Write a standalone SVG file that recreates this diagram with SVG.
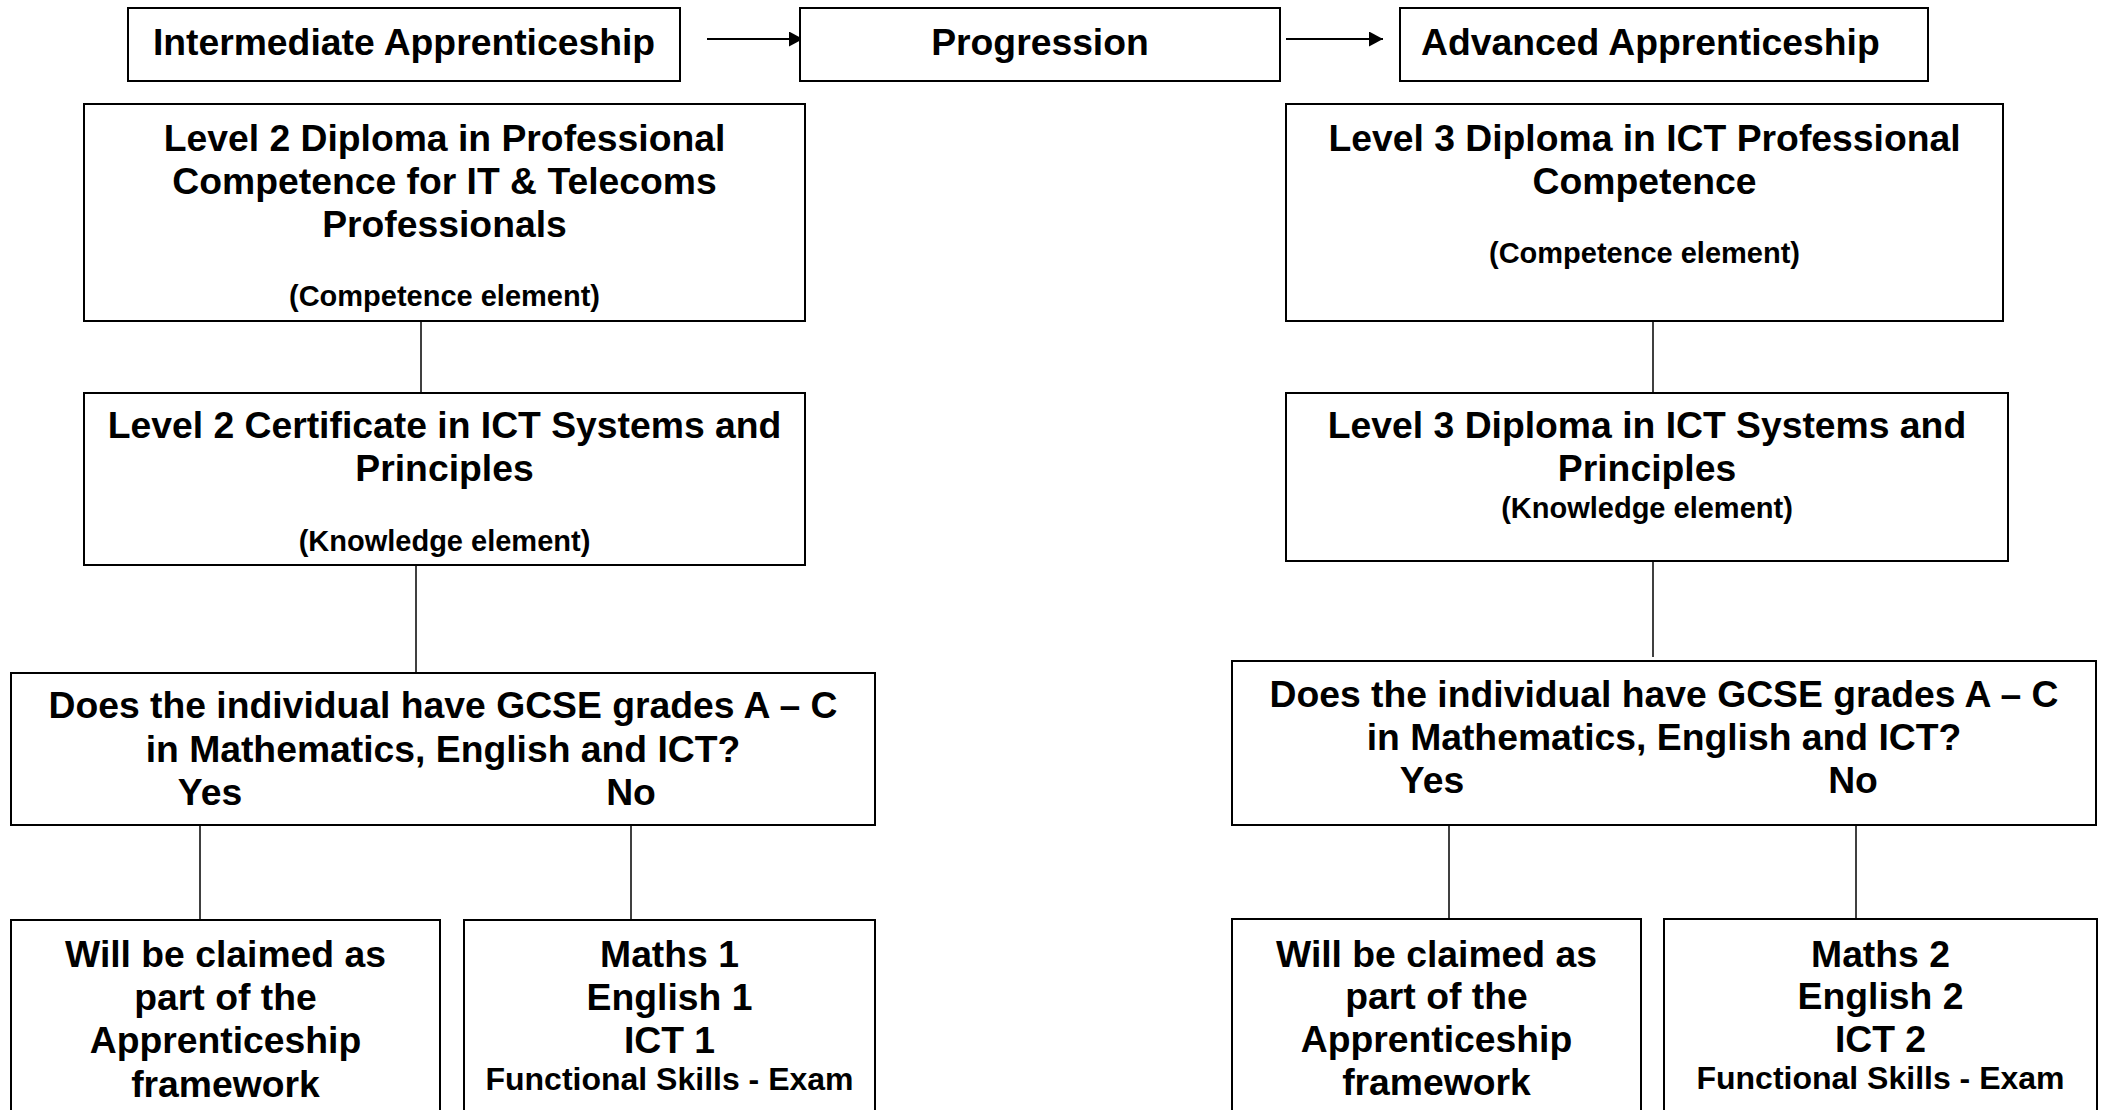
<svg xmlns="http://www.w3.org/2000/svg" width="2105" height="1110" viewBox="0 0 2105 1110">
<defs>
<style>
.box{fill:#fff;stroke:#000;stroke-width:2}
.t{font-family:"Liberation Sans",Arial,sans-serif;font-weight:bold;fill:#000;text-anchor:middle}
.L{font-size:37.3px}
.S{font-size:29px}
.M{font-size:32px}
.c{stroke:#000;stroke-width:1.5;fill:none}
.a{stroke:#000;stroke-width:2;fill:none}
</style>
<marker id="ah" markerWidth="14" markerHeight="15" refX="14" refY="7.5" orient="auto" markerUnits="userSpaceOnUse">
<path d="M0,0 L14,7.5 L0,15 Z" fill="#000"/>
</marker>
</defs>
<rect width="2105" height="1110" fill="#fff"/>
<g id="connectors">
<line class="a" x1="707" y1="39" x2="803" y2="39" marker-end="url(#ah)"/>
<line class="a" x1="1286" y1="39" x2="1383" y2="39" marker-end="url(#ah)"/>
<line class="c" x1="421" y1="321" x2="421" y2="393"/>
<line class="c" x1="416" y1="565" x2="416" y2="673"/>
<line class="c" x1="200" y1="825" x2="200" y2="920"/>
<line class="c" x1="631" y1="825" x2="631" y2="920"/>
<line class="c" x1="1653" y1="321" x2="1653" y2="393"/>
<line class="c" x1="1653" y1="561" x2="1653" y2="657"/>
<line class="c" x1="1449" y1="825" x2="1449" y2="919"/>
<line class="c" x1="1856" y1="825" x2="1856" y2="919"/>
</g>
<g id="intermediate">
<rect class="box" x="128" y="8" width="552" height="73"/>
<text class="t L" x="404" y="55">Intermediate Apprenticeship</text>
</g>
<g id="progression">
<rect class="box" x="800" y="8" width="480" height="73"/>
<text class="t L" x="1040" y="55">Progression</text>
</g>
<g id="advanced">
<rect class="box" x="1400" y="8" width="528" height="73"/>
<text class="t L" x="1421" y="55" style="text-anchor:start">Advanced Apprenticeship</text>
</g>
<g id="l2diploma">
<rect class="box" x="84" y="104" width="721" height="217"/>
<text class="t L" x="444.5" y="150.5">Level 2 Diploma in Professional</text>
<text class="t L" x="444.5" y="193.5">Competence for IT &amp; Telecoms</text>
<text class="t L" x="444.5" y="236.5">Professionals</text>
<text class="t S" x="444.5" y="305.5">(Competence element)</text>
</g>
<g id="l2cert">
<rect class="box" x="84" y="393" width="721" height="172"/>
<text class="t L" x="444.5" y="438">Level 2 Certificate in ICT Systems and</text>
<text class="t L" x="444.5" y="481">Principles</text>
<text class="t S" x="444.5" y="551">(Knowledge element)</text>
</g>
<g id="q1">
<rect class="box" x="11" y="673" width="864" height="152"/>
<text class="t L" x="443" y="718">Does the individual have GCSE grades A – C</text>
<text class="t L" x="443" y="762">in Mathematics, English and ICT?</text>
<text class="t L" x="210" y="805">Yes</text>
<text class="t L" x="631" y="805">No</text>
</g>
<g id="yes1">
<rect class="box" x="11" y="920" width="429" height="210"/>
<text class="t L" x="225.5" y="967">Will be claimed as</text>
<text class="t L" x="225.5" y="1010">part of the</text>
<text class="t L" x="225.5" y="1053">Apprenticeship</text>
<text class="t L" x="225.5" y="1097">framework</text>
</g>
<g id="no1">
<rect class="box" x="464" y="920" width="411" height="210"/>
<text class="t L" x="669.5" y="967">Maths 1</text>
<text class="t L" x="669.5" y="1010">English 1</text>
<text class="t L" x="669.5" y="1053">ICT 1</text>
<text class="t M" x="669.5" y="1090">Functional Skills - Exam</text>
</g>
<g id="l3diploma">
<rect class="box" x="1286" y="104" width="717" height="217"/>
<text class="t L" x="1644.5" y="150.5">Level 3 Diploma in ICT Professional</text>
<text class="t L" x="1644.5" y="193.5">Competence</text>
<text class="t S" x="1644.5" y="262.5">(Competence element)</text>
</g>
<g id="l3systems">
<rect class="box" x="1286" y="393" width="722" height="168"/>
<text class="t L" x="1647" y="438">Level 3 Diploma in ICT Systems and</text>
<text class="t L" x="1647" y="481">Principles</text>
<text class="t S" x="1647" y="518">(Knowledge element)</text>
</g>
<g id="q2">
<rect class="box" x="1232" y="661" width="864" height="164"/>
<text class="t L" x="1664" y="707">Does the individual have GCSE grades A – C</text>
<text class="t L" x="1664" y="750">in Mathematics, English and ICT?</text>
<text class="t L" x="1432" y="793">Yes</text>
<text class="t L" x="1853" y="793">No</text>
</g>
<g id="yes2">
<rect class="box" x="1232" y="919" width="409" height="210"/>
<text class="t L" x="1436.5" y="967">Will be claimed as</text>
<text class="t L" x="1436.5" y="1009">part of the</text>
<text class="t L" x="1436.5" y="1052">Apprenticeship</text>
<text class="t L" x="1436.5" y="1095">framework</text>
</g>
<g id="no2">
<rect class="box" x="1664" y="919" width="433" height="210"/>
<text class="t L" x="1880.5" y="967">Maths 2</text>
<text class="t L" x="1880.5" y="1009">English 2</text>
<text class="t L" x="1880.5" y="1052">ICT 2</text>
<text class="t M" x="1880.5" y="1089">Functional Skills - Exam</text>
</g>
</svg>
